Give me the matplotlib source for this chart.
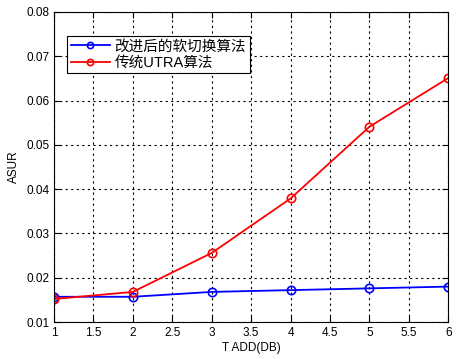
import matplotlib
matplotlib.use("Agg")
import matplotlib.pyplot as plt

plt.rcParams['font.family'] = ['Liberation Sans', 'Noto Sans CJK SC', 'DejaVu Sans']

t_add = [1, 2, 3, 4, 5, 6]
asur_new = [0.0157, 0.0157, 0.0168, 0.0172, 0.0176, 0.0180]
asur_utra = [0.0152, 0.0168, 0.0256, 0.0379, 0.0541, 0.0651]
labels = ["改进后的软切换算法", "传统UTRA算法"]

fig = plt.figure(figsize=(4.68, 3.59), dpi=100)
ax = fig.add_axes([0.1154, 0.103, 0.8426, 0.8636])

ax.plot(t_add, asur_new, color='#0000ff', marker='o', markersize=6,
        markerfacecolor='none', markeredgewidth=1.2, linewidth=1.3, label=labels[0])
ax.plot(t_add, asur_utra, color='#ff0000', marker='o', markersize=6,
        markerfacecolor='none', markeredgewidth=1.2, linewidth=1.3, label=labels[1])

ax.set_xlim(1, 6)
ax.set_ylim(0.01, 0.08)
ax.set_xticks([1, 1.5, 2, 2.5, 3, 3.5, 4, 4.5, 5, 5.5, 6])
ax.set_xticklabels(['1', '1.5', '2', '2.5', '3', '3.5', '4', '4.5', '5', '5.5', '6'])
ax.set_yticks([0.01, 0.02, 0.03, 0.04, 0.05, 0.06, 0.07, 0.08])
ax.set_yticklabels(['0.01', '0.02', '0.03', '0.04', '0.05', '0.06', '0.07', '0.08'])
ax.tick_params(direction='in', labelsize=8.5, top=True, right=True, length=4)
ax.grid(True, color='black', linestyle=(0, (2, 3)), linewidth=0.8)

ax.set_xlabel('T ADD(DB)', fontsize=8.5, labelpad=2)
ax.set_ylabel('ASUR', fontsize=8.5, labelpad=4)

leg = ax.legend(loc='upper left', bbox_to_anchor=(0.033, 0.923), fontsize=10.5,
                fancybox=False, edgecolor='black', framealpha=1,
                borderpad=0.25, labelspacing=0.15, handlelength=2.7,
                handletextpad=0.3, borderaxespad=0, markerscale=0.75)
leg.get_frame().set_linewidth(0.8)

fig.savefig('out.png', dpi=100)
